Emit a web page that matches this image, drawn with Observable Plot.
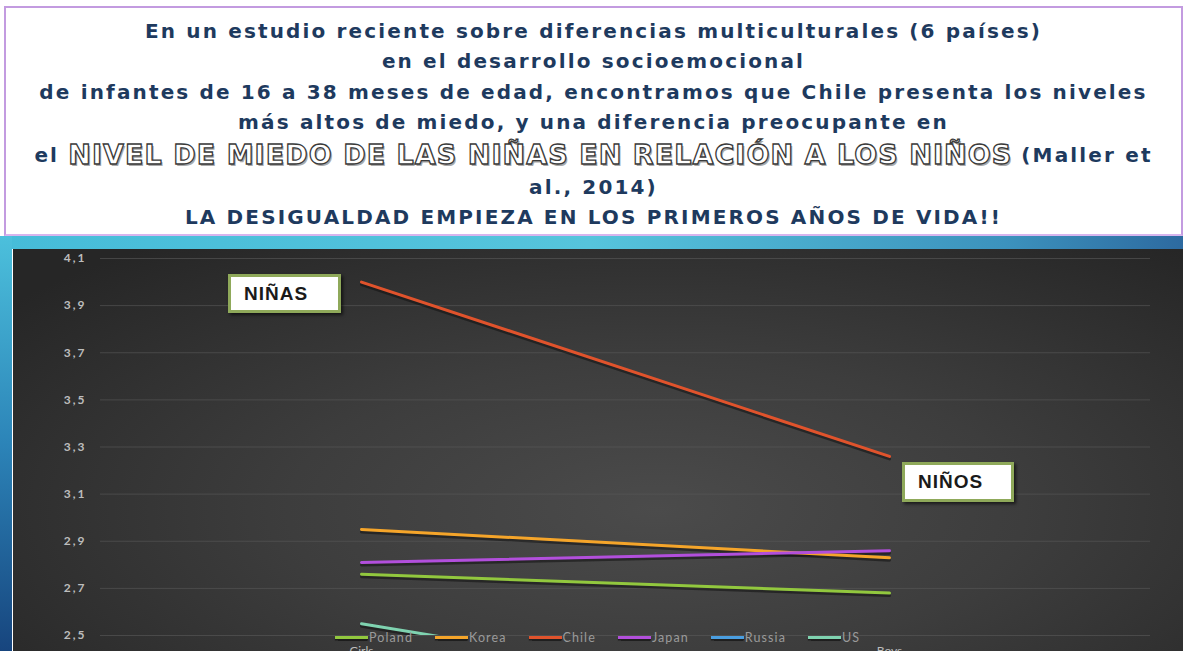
<!DOCTYPE html>
<html><head><meta charset="utf-8">
<script src="https://cdn.jsdelivr.net/npm/d3@7"></script>
<script src="https://cdn.jsdelivr.net/npm/@observablehq/plot@0.6"></script>
<style>
html,body{margin:0;padding:0;width:1183px;height:651px;overflow:hidden;background:#fff;position:relative;font-family:Lato,"Open Sans",sans-serif;}
#titlebox{position:absolute;left:4px;top:6px;width:1175px;height:226px;border:2px solid #c39be0;border-bottom-color:#d7b5ee;background:#fff;text-align:center;color:#1e3a5e;font-family:"DejaVu Sans",sans-serif;font-weight:bold;font-size:20px;}
#titlebox .l{position:absolute;left:0;right:0;line-height:24px;white-space:nowrap;}
#titlebox .l span{display:inline-block;}
.outl{font-family:"DejaVu Sans";font-weight:bold;font-size:27px;color:#fff;-webkit-text-stroke:1.3px #3a3a3a;text-shadow:1.5px 1.5px 0 #aaa;vertical-align:-2px;}
#band{position:absolute;left:0;top:236px;width:1183px;height:13px;background:linear-gradient(to right,#46bcd9,#56c4dc 50%,#3c92bd 85%,#2d6aa0);}
#lband{position:absolute;left:0;top:236px;width:12px;height:415px;background:linear-gradient(to bottom,#4cc0dc,#2c84b8 50%,#17457e);}
#chart{position:absolute;left:13px;top:249px;width:1170px;height:420px;background:radial-gradient(ellipse 70% 80% at 55% 62%,#4b4b4b 0%,#3d3d3d 45%,#262626 100%);}
.box{position:absolute;background:#fff;border:3px solid #8fa95a;box-shadow:2px 2px 3px rgba(0,0,0,.6);font-family:"Liberation Sans",Arial,sans-serif;font-weight:bold;font-size:19px;letter-spacing:1px;color:#1a1a1a;box-sizing:border-box;padding-left:13px;line-height:34px;}
#legend{position:absolute;top:630px;left:335px;display:flex;gap:22px;font-family:Lato,sans-serif;font-size:12.5px;letter-spacing:1.1px;color:#9a9a9a;}
#legend .it{display:flex;align-items:center;gap:1px;}
#legend .sw{width:33px;height:3px;box-shadow:0 1.5px 1px rgba(0,0,0,.5);}
</style></head>
<body>
<div id="titlebox"></div>
<div id="band"></div>
<div id="lband"></div>
<div id="chart"></div>
<div class="box" style="left:228px;top:274px;width:113px;height:39px;">NIÑAS</div>
<div class="box" style="left:902px;top:462px;width:112px;height:40px;">NIÑOS</div>
<div id="legend"></div>
<script>
const titleLines = [
  "En un estudio reciente sobre diferencias multiculturales (6 países)",
  "en el desarrollo socioemocional",
  "de infantes de 16 a 38 meses de edad, encontramos que Chile presenta los niveles",
  "más altos de miedo, y una diferencia preocupante en",
  "__OUTLINE__",
  "al., 2014)",
  "LA DESIGUALDAD EMPIEZA EN LOS PRIMEROS AÑOS DE VIDA!!"
];
const outlinedBefore = "el ";
const outlinedText = "NIVEL DE MIEDO DE LAS NIÑAS EN RELACIÓN A LOS NIÑOS";
const outlinedAfter = " (Maller et";
const categories = ["Girls", "Boys"];
const countries = ["Poland", "Korea", "Chile", "Japan", "Russia", "US"];
const girlsValues = [2.76, 2.95, 4.00, 2.81, 2.42, 2.55];
const boysValues  = [2.68, 2.83, 3.26, 2.86, 2.38, 2.18];
const colors = ["#92c83e", "#f5a52a", "#e0532c", "#b24fdc", "#4a9ee0", "#7fd3b0"];
const yTicks = [2.5, 2.7, 2.9, 3.1, 3.3, 3.5, 3.7, 3.9, 4.1];

// title
const tb = document.getElementById("titlebox");
const tops = [11, 41, 72, 102, 135, 167, 197];
const spans = [];
let outSpan = null;
titleLines.forEach((t, i) => {
  const d = document.createElement("div");
  d.className = "l";
  d.style.top = tops[i] + "px";
  if (t === "__OUTLINE__") {
    const a = document.createElement("span"); a.textContent = outlinedBefore; a.style.whiteSpace = "pre";
    outSpan = document.createElement("span"); outSpan.className = "outl"; outSpan.textContent = outlinedText;
    const b = document.createElement("span"); b.textContent = outlinedAfter; b.style.whiteSpace = "pre";
    d.append(a, outSpan, b); spans.push(a, b);
  } else {
    const s = document.createElement("span"); s.textContent = t; d.appendChild(s); spans.push(s);
  }
  tb.appendChild(d);
});
// fit letter spacing so the first line spans ~897px, like the reference
const first = spans[0];
const w0 = first.getBoundingClientRect().width;
const ls = (897 - w0) / titleLines[0].length;
spans.forEach(s => s.style.letterSpacing = ls + "px");
const wo = outSpan.getBoundingClientRect().width;
outSpan.style.letterSpacing = ((944 - wo) / outlinedText.length) + "px";

// legend
const lg = document.getElementById("legend");
countries.forEach((c, i) => {
  const it = document.createElement("div"); it.className = "it";
  it.innerHTML = `<span class="sw" style="background:${colors[i]}"></span><span>${c}</span>`;
  lg.appendChild(it);
});

const rows = [];
countries.forEach((c, i) => {
  rows.push({country: c, group: categories[0], value: girlsValues[i]});
  rows.push({country: c, group: categories[1], value: boysValues[i]});
});

const chart = Plot.plot({
  width: 1170, height: 420,
  marginTop: 9, marginBottom: 34, marginLeft: 87, marginRight: 33,
  style: {background: "transparent", color: "#bdbdbd", fontFamily: "Lato, sans-serif", fontSize: "12px"},
  x: {type: "point", domain: categories, padding: 0.494, label: null, tickSize: 0, tickPadding: 11},
  y: {domain: [2.5, 4.1], ticks: yTicks, tickFormat: d => d.toFixed(1).replace(".", ","), label: null, tickSize: 0, tickPadding: 14},
  color: {domain: countries, range: colors},
  marks: [
    Plot.gridY(yTicks, {stroke: "#5a5a5a", strokeOpacity: 0.6, strokeWidth: 1}),
    Plot.line(rows, {x: "group", y: "value", z: "country", stroke: "#111", strokeOpacity: 0.55, strokeWidth: 3, dy: 2.5, clip: true}),
    Plot.line(rows, {x: "group", y: "value", z: "country", stroke: "country", strokeWidth: 3, clip: true})
  ]
});
chart.style.position = "absolute";
chart.style.left = "0"; chart.style.top = "0";
chart.querySelectorAll("g[aria-label='y-axis tick label'] text").forEach(t => { t.style.letterSpacing = "2px"; t.style.fontWeight = "bold"; });
document.getElementById("chart").appendChild(chart);
</script>
</body></html>
